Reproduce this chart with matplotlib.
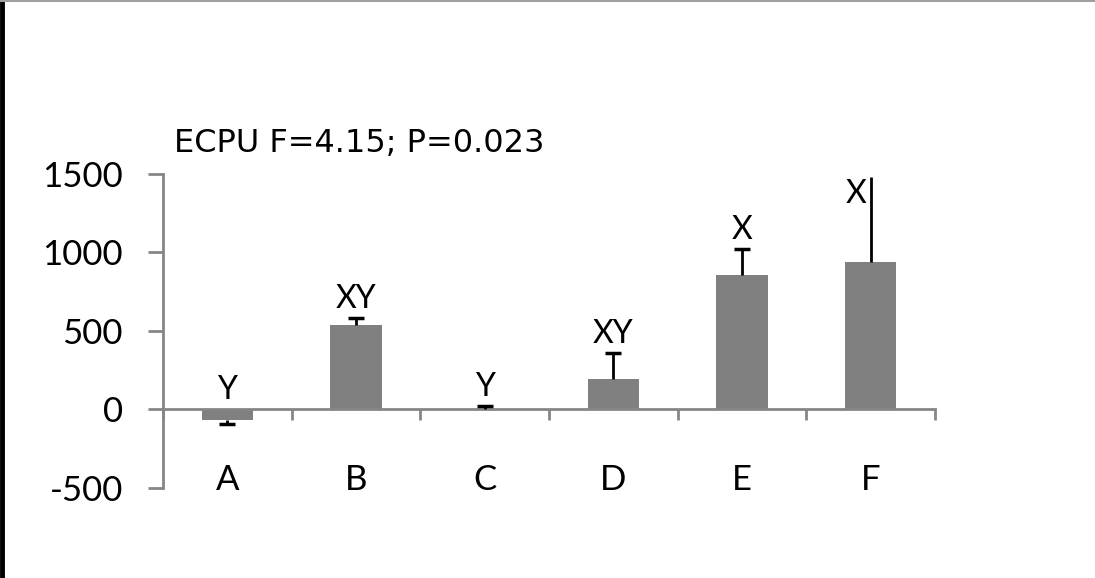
import matplotlib
matplotlib.use("Agg")
import matplotlib.pyplot as plt
from matplotlib.lines import Line2D

plt.rcParams["font.family"] = ["Lato", "DejaVu Sans"]

# group means, one-sided error (std error) and significance letters
groups = ["A", "B", "C", "D", "E", "F"]
means = [-65, 535, 5, 195, 855, 940]
errors = [30, 45, 20, 165, 170, 540]
letters = ["Y", "XY", "Y", "XY", "X", "X"]
show_cap = [True, True, True, True, True, False]
y_ticks = [-500, 0, 500, 1000, 1500]

axis_grey = "#868686"
bar_grey = "#808080"

fig = plt.figure(figsize=(10.95, 5.78), dpi=100)
fig.patch.set_facecolor("white")
ax = fig.add_axes([0.1489, 0.1557, 0.705, 0.5433])

x = list(range(len(groups)))
ax.bar(x, means, width=0.4, color=bar_grey, zorder=2)

# error bars point away from zero, cap only at the far end
for i in x:
    m = means[i]
    end = m - errors[i] if m < 0 else m + errors[i]
    ax.vlines(i, m, end, color="black", linewidth=2, zorder=3)
    if show_cap[i]:
        ax.plot(i, end, marker="_", markersize=12, mew=2.5, color="black",
                zorder=3)

# significance letters sit above the error bar (or the zero line)
for i, lab in enumerate(letters):
    top = max(means[i] + errors[i], 0) if means[i] >= 0 else 0
    if show_cap[i]:
        ax.annotate(lab, (i, top), xytext=(0, 4), textcoords="offset pixels",
                    ha="center", va="bottom", fontsize=23, color="black")
    else:
        ax.annotate(lab, (i, top), xytext=(-4, -2), textcoords="offset pixels",
                    ha="right", va="top", fontsize=23, color="black")

ax.set_xlim(-0.5, len(groups) - 0.5)
ax.set_ylim(-500, 1500)
ax.set_yticks(y_ticks)
ax.set_yticklabels([str(v) for v in y_ticks])

# category axis crosses at zero, ticks on category boundaries
ax.spines["bottom"].set_position(("data", 0))
ax.spines["bottom"].set_color(axis_grey)
ax.spines["bottom"].set_linewidth(2)
ax.spines["left"].set_color(axis_grey)
ax.spines["left"].set_linewidth(2)
ax.spines["top"].set_visible(False)
ax.spines["right"].set_visible(False)

ax.set_xticks(x)
ax.set_xticklabels(groups)
ax.set_xticks([b - 0.5 for b in range(len(groups) + 1)], minor=True)
ax.tick_params(axis="x", which="major", length=0, pad=39, labelsize=25)
ax.tick_params(axis="x", which="minor", length=8, width=2, color=axis_grey,
               direction="out")
ax.tick_params(axis="y", length=11, width=2, color=axis_grey, pad=18,
               labelsize=25)
ax.set_facecolor("white")

fig.text(0.159, 0.751, "ECPU F=4.15; P=0.023", fontsize=23, ha="left",
         va="center", color="black", family=["DejaVu Sans"])

# frame edges of the exported image
fig.add_artist(Line2D([0.002, 0.002], [0, 1], transform=fig.transFigure,
                      color="black", linewidth=3.5))
fig.add_artist(Line2D([0, 1], [0.998, 0.998], transform=fig.transFigure,
                      color="#a0a0a0", linewidth=1.5))

fig.savefig("out.png", dpi=100, facecolor="white")
